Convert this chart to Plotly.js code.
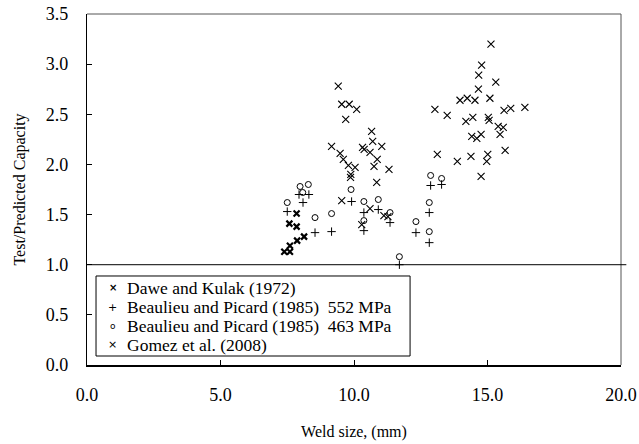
<!DOCTYPE html>
<html>
<head>
<meta charset="utf-8">
<script src="https://cdn.plot.ly/plotly-3.0.1.min.js"></script>
<style>html,body{margin:0;padding:0;background:#fff;}#chart{width:639px;height:444px;}</style>
</head>
<body>
<div id="chart"></div>
<script>
// Series names (legend)
const seriesNames = [
  "Dawe and Kulak (1972)",
  "Beaulieu and Picard (1985)  552 MPa",
  "Beaulieu and Picard (1985)  463 MPa",
  "Gomez et al. (2008)"
];
const legendGlyphs = ["\u00D7", "+", "o", "\u00D7"];

// Dawe and Kulak (1972)
const daweX = [7.85, 7.58, 7.85, 8.13, 7.87, 7.60, 7.39, 7.60];
const daweY = [1.51, 1.41, 1.38, 1.28, 1.24, 1.19, 1.13, 1.13];

// Beaulieu and Picard (1985) 552 MPa
const bp552X = [7.94, 8.31, 8.09, 7.50, 8.54, 9.16, 9.91, 10.37, 10.91, 11.35, 10.37, 11.70, 12.32, 12.82, 12.82, 12.87, 13.28];
const bp552Y = [1.70, 1.70, 1.62, 1.53, 1.32, 1.33, 1.63, 1.52, 1.55, 1.42, 1.34, 1.00, 1.32, 1.52, 1.22, 1.79, 1.80];

// Beaulieu and Picard (1985) 463 MPa
const bp463X = [7.98, 8.29, 8.08, 7.50, 8.54, 9.16, 9.89, 10.37, 10.91, 11.35, 10.37, 11.70, 12.32, 12.82, 12.82, 12.87, 13.28];
const bp463Y = [1.78, 1.80, 1.72, 1.62, 1.47, 1.51, 1.75, 1.63, 1.65, 1.52, 1.44, 1.08, 1.43, 1.62, 1.33, 1.89, 1.86];

// Gomez et al. (2008)
const gomezX = [9.41, 9.54, 9.82, 10.10, 9.69, 10.66, 10.70, 11.04, 10.32, 10.38, 10.60, 9.16, 9.48, 9.60, 9.79, 10.04, 9.88, 9.87,
  10.87, 10.75, 11.31, 10.85, 9.54, 10.60, 11.12, 11.27, 10.29,
  15.13, 14.78, 14.67, 15.31, 14.66, 13.97, 14.24, 14.53, 15.09, 13.03, 13.49, 15.62, 15.87, 16.40, 14.19, 14.45, 15.03, 15.06,
  15.40, 15.59, 14.41, 14.60, 14.76, 15.47, 13.12, 13.87, 14.38, 15.01, 14.97, 15.66, 14.76];
const gomezY = [2.78, 2.60, 2.60, 2.55, 2.45, 2.33, 2.23, 2.18, 2.17, 2.15, 2.12, 2.18, 2.11, 2.05, 1.99, 1.97, 1.90, 1.87,
  2.05, 1.98, 1.95, 1.82, 1.64, 1.56, 1.49, 1.48, 1.40,
  3.20, 2.99, 2.89, 2.82, 2.75, 2.64, 2.66, 2.64, 2.66, 2.55, 2.49, 2.54, 2.56, 2.57, 2.43, 2.47, 2.47, 2.44,
  2.38, 2.37, 2.28, 2.26, 2.30, 2.30, 2.10, 2.03, 2.08, 2.10, 2.03, 2.14, 1.88];

// Axis settings
const xRange = [0, 20];
const yRange = [0, 3.5];
const referenceRatio = 1.0;

const serif = "Times New Roman";

const traces = [
  {x: daweX, y: daweY, name: seriesNames[0], type: "scatter", mode: "markers",
   marker: {symbol: "x-thin-open", size: 6, color: "#000", line: {color: "#000", width: 2.2}}},
  {x: bp552X, y: bp552Y, name: seriesNames[1], type: "scatter", mode: "markers",
   marker: {symbol: "cross-thin-open", size: 6, color: "#000", line: {color: "#000", width: 1}}},
  {x: bp463X, y: bp463Y, name: seriesNames[2], type: "scatter", mode: "markers",
   marker: {symbol: "circle-open", size: 6, color: "#000", line: {color: "#000", width: 1}}},
  {x: gomezX, y: gomezY, name: seriesNames[3], type: "scatter", mode: "markers",
   marker: {symbol: "x-thin-open", size: 7, color: "#000", line: {color: "#000", width: 1.1}}}
];

// Legend (drawn as annotations to match original compact spacing)
const legendRowsY = [0.2194, 0.1652, 0.1111, 0.0570];
const glyphSizes = [10, 11, 9, 11];
const annotations = [];
seriesNames.forEach((n, i) => {
  annotations.push({xref: "paper", yref: "paper", x: 0.048, y: legendRowsY[i], text: legendGlyphs[i],
    showarrow: false, xanchor: "center", yanchor: "middle",
    font: {family: "DejaVu Sans", size: glyphSizes[i], color: "#000", weight: i === 0 ? 700 : 400}});
  annotations.push({xref: "paper", yref: "paper", x: 0.0712, y: legendRowsY[i], text: n,
    showarrow: false, xanchor: "left", yanchor: "middle",
    font: {family: serif, size: 17.5, color: "#000"}});
});

const layout = {
  width: 639, height: 444,
  margin: {l: 87, r: 18, t: 14, b: 79, pad: 0},
  paper_bgcolor: "#fff", plot_bgcolor: "#fff",
  showlegend: false,
  font: {family: serif, color: "#000", size: 18},
  xaxis: {
    range: xRange, dtick: 5, tick0: 0, tickformat: ".1f",
    ticks: "inside", ticklen: 5, tickwidth: 1, tickcolor: "#000",
    showline: true, linecolor: "#000", linewidth: 1.5, mirror: false,
    showgrid: false, zeroline: false,
    tickfont: {family: serif, size: 18, color: "#000"},
    ticklabelstandoff: 13,
    title: {text: "Weld size, (mm)", font: {family: serif, size: 16, color: "#000"}, standoff: 21}
  },
  yaxis: {
    range: yRange, dtick: 0.5, tick0: 0, tickformat: ".1f",
    ticks: "inside", ticklen: 5, tickwidth: 1, tickcolor: "#000",
    showline: true, linecolor: "#000", linewidth: 1.2, mirror: false,
    showgrid: false, zeroline: false,
    tickfont: {family: serif, size: 18, color: "#000"},
    ticklabelstandoff: 14,
    title: {text: "Test/Predicted Capacity", font: {family: serif, size: 16, color: "#000"}, standoff: 16}
  },
  shapes: [
    {type: "line", xref: "paper", yref: "paper", x0: 0, x1: 1, y0: 1, y1: 1, line: {color: "#555", width: 1}},
    {type: "line", xref: "paper", yref: "paper", x0: 1, x1: 1, y0: 0, y1: 1, line: {color: "#555", width: 1}},
    {type: "line", xref: "paper", yref: "y", x0: 0, x1: 1.01, y0: referenceRatio, y1: referenceRatio, line: {color: "#000", width: 1}},
    {type: "rect", xref: "paper", yref: "paper", x0: 0.0169, x1: 0.605, y0: 0.0256, y1: 0.2536,
     line: {color: "#000", width: 1}, fillcolor: "#fff", layer: "above"}
  ],
  annotations: annotations
};

Plotly.newPlot("chart", traces, layout, {displayModeBar: false, staticPlot: true});
</script>
</body>
</html>
